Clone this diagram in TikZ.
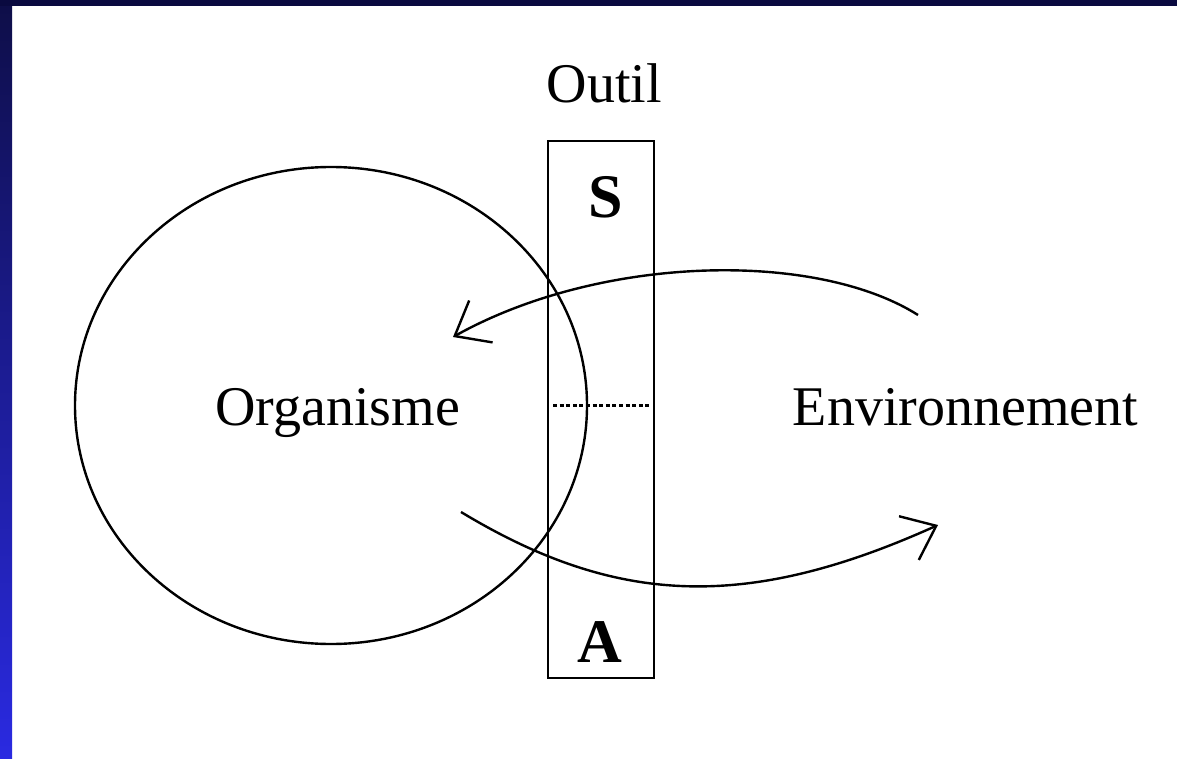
\documentclass[tikz,border=0pt]{standalone}
\usepackage{fontspec}
\setmainfont{Liberation Serif}
\usetikzlibrary{arrows.meta}
\definecolor{navytop}{RGB}{10,10,64}
\definecolor{barbot}{RGB}{42,42,225}
\definecolor{bartop}{RGB}{14,14,72}
\begin{document}
\begin{tikzpicture}[x=1pt,y=-1pt,
  ln/.style={line width=2.4pt, black},
  lbl/.style={inner sep=0pt, anchor=base, font=\fontsize{56}{60}\selectfont},
  bold/.style={inner sep=0pt, anchor=base, font=\fontsize{62}{66}\selectfont\bfseries},
  arr/.style={ln, -{Straight Barb[length=30pt,width=48pt]}},
  dots/.style={line width=2.4pt, dash pattern=on 4pt off 2.6pt}]
\useasboundingbox (0,0) rectangle (1177,759);
% background and border
\fill[white] (0,0) rectangle (1177,759);
\shade[top color=bartop, bottom color=barbot] (0,0) rectangle (12,759);
\fill[navytop] (0,0) rectangle (1177,6);
% organism circle
\draw[ln] (331,405.5) ellipse [x radius=256, y radius=238.5];
% tool box
\node[ln, draw, minimum width=106pt, minimum height=537pt, inner sep=0pt] (outil) at (601,409.5) {};
\node[bold] (s) at (606,218) {S};
\node[bold] (a) at (600,662) {A};
% dotted separator
\coordinate (d1) at (553,405.5);
\coordinate (d2) at (650,405.5);
\draw[dots] (d1) -- (d2);
% labels
\node[lbl] (outiltxt) at (604.5,103) {Outil};
\node[lbl] (org) at (337.5,425) {Organisme};
\node[lbl] (env) at (965.5,425) {Environnement};
% arrows
\coordinate (u1) at (918,315);
\coordinate (u2) at (453,337);
\draw[arr] (u1) .. controls (815,250) and (600,255) .. (u2);
\coordinate (l1) at (461,512);
\coordinate (l2) at (938,525);
\draw[arr] (l1) .. controls (615,605) and (745,612) .. (l2);
\end{tikzpicture}
\end{document}
